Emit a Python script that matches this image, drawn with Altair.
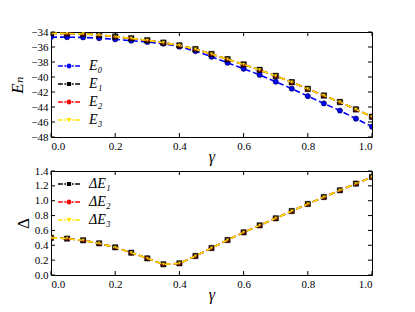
import altair as alt
import pandas as pd

gamma = [0.0, 0.05, 0.1, 0.15, 0.2, 0.25, 0.3, 0.35, 0.4, 0.45, 0.5,
         0.55, 0.6, 0.65, 0.7, 0.75, 0.8, 0.85, 0.9, 0.95, 1.0]

E0 = [-34.67, -34.69, -34.72, -34.82, -34.98, -35.15, -35.33, -35.56, -35.95, -36.55, -37.30,
      -38.10, -38.90, -39.72, -40.62, -41.55, -42.55, -43.52, -44.48, -45.55, -46.62]
E1 = [-34.17, -34.20, -34.25, -34.39, -34.61, -34.85, -35.11, -35.42, -35.79, -36.29, -36.94,
      -37.63, -38.33, -39.05, -39.86, -40.69, -41.59, -42.47, -43.34, -44.32, -45.30]
E2 = [-34.17, -34.20, -34.25, -34.39, -34.61, -34.85, -35.11, -35.42, -35.79, -36.29, -36.94,
      -37.63, -38.33, -39.05, -39.86, -40.69, -41.59, -42.47, -43.34, -44.32, -45.30]
E3 = [-34.17, -34.20, -34.25, -34.39, -34.61, -34.85, -35.11, -35.42, -35.79, -36.29, -36.94,
      -37.63, -38.33, -39.05, -39.86, -40.69, -41.59, -42.47, -43.34, -44.32, -45.30]

dE1 = [0.50, 0.49, 0.467, 0.426, 0.372, 0.30, 0.224, 0.144, 0.157, 0.256, 0.363,
       0.471, 0.574, 0.668, 0.763, 0.861, 0.956, 1.05, 1.14, 1.23, 1.32]
dE2 = [0.50, 0.49, 0.467, 0.426, 0.372, 0.30, 0.224, 0.144, 0.157, 0.256, 0.363,
       0.471, 0.574, 0.668, 0.763, 0.861, 0.956, 1.05, 1.14, 1.23, 1.32]
dE3 = [0.50, 0.49, 0.467, 0.426, 0.372, 0.30, 0.224, 0.144, 0.157, 0.256, 0.363,
       0.471, 0.574, 0.668, 0.763, 0.861, 0.956, 1.05, 1.14, 1.23, 1.32]

x_ticks = [0.0, 0.2, 0.4, 0.6, 0.8, 1.0]
top_y_ticks = [-48, -46, -44, -42, -40, -38, -36, -34]
bot_y_ticks = [0.0, 0.2, 0.4, 0.6, 0.8, 1.0, 1.2, 1.4]

top_names = ["E₀", "E₁", "E₂", "E₃"]
bot_names = ["ΔE₁", "ΔE₂", "ΔE₃"]
top_colors = ["#0000ff", "#000000", "#ff0000", "#ffe600"]
bot_colors = ["#000000", "#ff0000", "#ffe600"]
top_shapes = ["circle", "square", "circle", "triangle-down"]
bot_shapes = ["square", "circle", "triangle-down"]
top_sizes = [28, 30, 20, 18]
bot_sizes = [28, 20, 16]

DASHES = ("M-1,-0.07H-0.56V0.07H-1Z M-0.42,-0.07H-0.26V0.07H-0.42Z "
          "M0.26,-0.07H0.42V0.07H0.26Z M0.56,-0.07H1V0.07H0.56Z ")
MARK = {
    "circle": "M0.22,0A0.22,0.22,0,1,1,-0.22,0A0.22,0.22,0,1,1,0.22,0Z",
    "square": "M-0.19,-0.19H0.19V0.19H-0.19Z",
    "triangle-down": "M-0.24,-0.18H0.24L0,0.22Z",
}

W = 321
SERIF = "'Liberation Serif', 'Times New Roman', 'DejaVu Serif', serif"


def panel(series, names, colors, shapes, sizes, ydom, yticks, yfmt, ytitle,
          ytitle_pad, ytitle_style, H, legend_y, row_pad):
    xsc = alt.Scale(domain=[0, 1], nice=False, zero=False)
    ysc = alt.Scale(domain=ydom, nice=False, zero=False)
    xax = alt.Axis(values=x_ticks, format=".1f", title="γ", titleFontSize=16,
                   titlePadding=-3)
    yax = alt.Axis(values=yticks, format=yfmt, title=ytitle, titleFontSize=17,
                   titlePadding=ytitle_pad, titleFontStyle=ytitle_style)
    X = alt.X("g:Q", scale=xsc, axis=xax)
    Y = alt.Y("v:Q", scale=ysc, axis=yax)
    layers = []
    for ys, c, shp, sz in zip(series, colors, shapes, sizes):
        df = pd.DataFrame({"g": gamma, "v": ys})
        layers.append(alt.Chart(df).mark_line(color=c, strokeDash=[6, 3], strokeWidth=1.6,
                                              clip=True).encode(x=X, y=Y))
        layers.append(alt.Chart(df).mark_point(shape=shp, filled=True, fill=c, stroke="black",
                                               strokeWidth=0.5, size=sz, opacity=1,
                                               clip=True).encode(x=X, y=Y))
    # inward ticks
    xt = pd.DataFrame({"g": x_ticks})
    yt = pd.DataFrame({"v": yticks})
    layers.append(alt.Chart(xt).mark_rule(color="black", strokeWidth=1).encode(
        x=X, y=alt.value(0), y2=alt.value(4)))
    layers.append(alt.Chart(xt).mark_rule(color="black", strokeWidth=1).encode(
        x=X, y=alt.value(H), y2=alt.value(H - 4)))
    layers.append(alt.Chart(yt).mark_rule(color="black", strokeWidth=1).encode(
        y=Y, x=alt.value(0), x2=alt.value(4)))
    layers.append(alt.Chart(yt).mark_rule(color="black", strokeWidth=1).encode(
        y=Y, x=alt.value(W), x2=alt.value(W - 4)))
    # legend
    leg = alt.Legend(title=None, orient="none", legendX=7, legendY=legend_y,
                     symbolSize=484, symbolStrokeWidth=0, symbolOpacity=1,
                     labelFont=SERIF, labelFontSize=14, labelFontStyle="italic",
                     labelColor="black", labelOffset=9, rowPadding=row_pad, padding=0)
    ldf = pd.DataFrame({"series": names})
    layers.append(alt.Chart(ldf).transform_filter("false").mark_point(
        filled=True, opacity=1).encode(
        color=alt.Color("series:N", scale=alt.Scale(domain=names, range=colors), legend=leg),
        shape=alt.Shape("series:N", scale=alt.Scale(domain=names,
                                                    range=[DASHES + MARK[s] for s in shapes]),
                        legend=leg),
    ))
    return alt.layer(*layers).properties(width=W, height=H)


top = panel([E0, E1, E2, E3], top_names, top_colors, top_shapes, top_sizes,
            [-48, -34], top_y_ticks, "d", "Eₙ", 4, "italic", 105, 23, -4.2)
bot = panel([dE1, dE2, dE3], bot_names, bot_colors, bot_shapes, bot_sizes,
            [0, 1.4], bot_y_ticks, ".1f", "Δ", 1.5, "normal", 104, 2, -3.7)

chart = alt.vconcat(top, bot, spacing=34, bounds="flush").resolve_scale(
    color="independent", shape="independent"
).properties(
    padding={"left": 0, "top": 17, "right": 5, "bottom": 5},
    background="white",
).configure_view(
    stroke="black", strokeWidth=1
).configure_axis(
    domain=False, ticks=False, grid=False, labelFont=SERIF, labelFontSize=11,
    labelColor="black", labelPadding=3, titleFont=SERIF, titleFontWeight="normal",
    titleColor="black", titleFontStyle="italic"
)

chart.save("out.html", embed_options={"renderer": "svg", "actions": False})
